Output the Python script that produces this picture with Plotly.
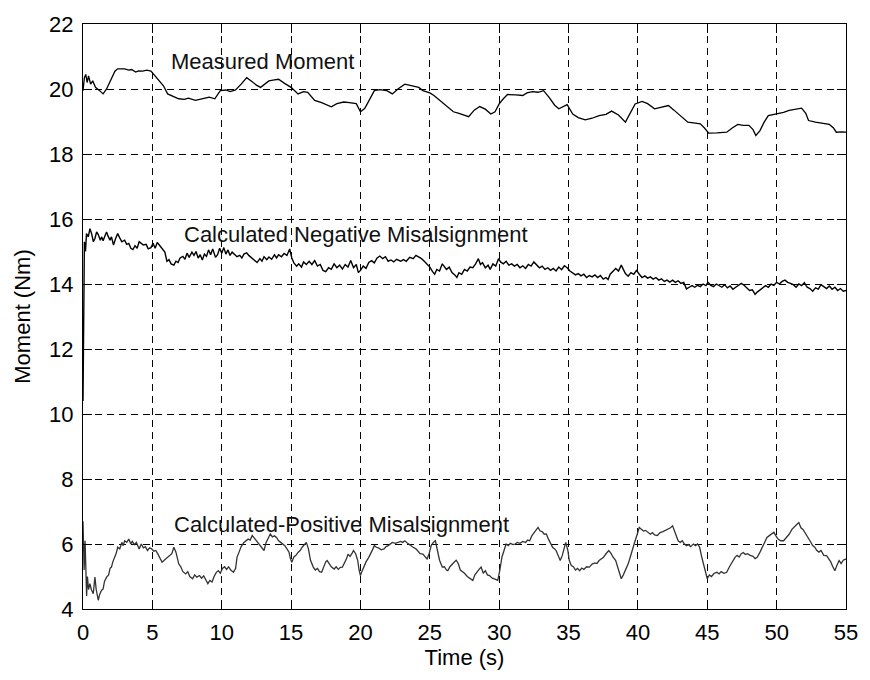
import plotly.graph_objects as go

# ---------------- data ----------------
t_meas = [0.0,0.1,0.2,0.3,0.4,0.55,0.7,0.9,1.2,1.45,1.7,2.0,2.3,2.5,3.0,3.3,3.5,3.8,4.0,4.3,4.6,4.9,
          5.2,5.5,5.8,6.1,6.4,6.9,7.3,7.6,8.1,8.5,8.8,9.1,9.5,9.9,10.3,10.6,11.0,11.4,11.8,12.2,12.5,
          12.8,13.1,13.4,13.8,14.1,14.5,15.0,15.5,15.9,16.2,16.7,17.2,17.9,18.3,18.8,19.2,19.7,20.0,
          20.3,20.5,21.0,21.4,21.9,22.3,22.7,23.2,23.5,23.8,24.2,24.5,25.0,25.3,25.7,26.0,26.4,26.7,
          27.1,27.5,27.8,28.2,28.6,29.0,29.4,29.7,30.0,30.3,30.6,31.2,31.7,32.0,32.4,32.8,33.2,33.6,
          34.0,34.3,34.6,34.9,35.3,35.7,36.2,36.7,37.2,37.7,38.1,38.6,39.1,39.5,39.8,40.3,40.7,41.2,
          41.7,42.2,42.6,43.1,43.6,44.0,44.5,44.8,45.1,45.7,46.4,46.8,47.2,47.6,48.0,48.3,48.5,48.8,
          49.1,49.4,49.8,50.1,50.5,50.9,51.3,51.8,52.1,52.3,52.8,53.3,53.8,54.1,54.3,54.7,55.0]
measured = [19.95,20.35,20.45,20.2,20.4,20.15,20.25,20.05,19.95,19.85,20.0,20.3,20.55,20.62,20.62,20.58,
            20.6,20.52,20.56,20.55,20.58,20.55,20.4,20.25,20.1,19.85,19.8,19.7,19.68,19.72,19.65,19.68,
            19.72,19.75,19.7,19.95,19.97,19.92,19.97,20.15,20.35,20.22,20.12,20.05,20.15,20.25,20.28,
            20.3,20.18,20.05,19.85,19.92,19.9,19.65,19.58,19.45,19.55,19.6,19.58,19.55,19.3,19.4,19.55,
            19.95,19.98,19.95,19.85,20.0,20.15,20.12,20.1,20.05,19.95,19.88,19.8,19.65,19.55,19.4,19.3,
            19.25,19.2,19.15,19.35,19.46,19.38,19.23,19.3,19.54,19.7,19.83,19.82,19.8,19.88,19.92,19.9,
            19.95,19.74,19.5,19.39,19.45,19.52,19.23,19.12,19.05,19.1,19.18,19.22,19.32,19.2,18.98,19.3,
            19.54,19.62,19.55,19.39,19.45,19.49,19.35,19.15,18.98,18.96,18.93,18.8,18.64,18.65,18.67,
            18.8,18.91,18.88,18.88,18.75,18.57,18.72,18.98,19.18,19.22,19.23,19.28,19.34,19.38,19.41,
            19.25,19.03,18.98,18.95,18.91,18.8,18.67,18.68,18.67]

t_neg = [0.00,0.05,0.10,0.18,0.25,0.38,0.50,0.62,0.75,0.86,0.98,1.10,1.25,1.35,1.45,1.60,1.70,1.80,1.95,
         2.05,2.20,2.35,2.50,2.65,2.80,3.00,3.15,3.30,3.45,3.60,3.75,3.90,4.05,4.20,4.35,4.55,4.70,4.90,
         5.05,5.20,5.35,5.50,5.70,5.90,6.05,6.20,6.35,6.55,6.70,6.85,7.00,7.20,7.35,7.50,7.65,7.85,8.00,
         8.15,8.30,8.45,8.60,8.75,8.90,9.05,9.20,9.35,9.55,9.70,9.85,10.00,10.15,10.30,10.45,10.60,10.75,
         10.95,11.10,11.30,11.45,11.60,11.80,11.95,12.15,12.35,12.55,12.75,12.90,13.05,13.25,13.40,13.60,
         13.80,13.95,14.10,14.30,14.50,14.70,14.90,15.05,15.20,15.40,15.55,15.75,15.90,16.10,16.30,16.50,
         16.70,16.90,17.10,17.30,17.50,17.70,17.90,18.10,18.30,18.50,18.70,18.90,19.10,19.30,19.50,19.70,
         19.85,20.00,20.20,20.40,20.60,20.80,21.00,21.20,21.40,21.60,21.80,22.00,22.20,22.40,22.60,22.90,
         23.10,23.30,23.55,23.80,24.00,24.20,24.40,24.60,24.80,25.00,25.20,25.35,25.50,25.70,25.90,26.05,
         26.20,26.40,26.60,26.80,26.95,27.10,27.30,27.50,27.70,27.90,28.10,28.30,28.50,28.65,28.80,29.00,
         29.20,29.35,29.55,29.75,29.95,30.10,30.30,30.50,30.70,30.90,31.10,31.30,31.50,31.70,31.90,32.10,
         32.30,32.50,32.70,32.90,33.10,33.30,33.50,33.70,33.90,34.10,34.30,34.50,34.70,34.90,35.10,35.30,
         35.50,35.70,35.90,36.10,36.30,36.50,36.70,36.90,37.10,37.30,37.50,37.70,37.85,38.00,38.20,38.40,
         38.60,38.80,38.95,39.10,39.30,39.50,39.70,39.90,40.10,40.30,40.50,40.70,40.90,41.10,41.30,41.50,
         41.70,41.90,42.10,42.30,42.50,42.70,42.90,43.10,43.30,43.50,43.70,43.90,44.10,44.30,44.50,44.70,
         44.90,45.05,45.25,45.45,45.65,45.85,46.05,46.25,46.45,46.65,46.85,47.05,47.25,47.45,47.65,47.85,
         48.05,48.25,48.45,48.60,48.80,49.00,49.20,49.40,49.60,49.80,50.00,50.20,50.40,50.60,50.80,51.00,
         51.20,51.40,51.60,51.80,52.00,52.20,52.40,52.60,52.80,53.00,53.20,53.40,53.60,53.80,54.00,54.20,
         54.40,54.60,54.80,55.00]
negative = [10.4,13.5,15.3,15.0,15.55,15.45,15.7,15.55,15.3,15.4,15.6,15.52,15.35,15.45,15.33,15.5,15.6,
            15.48,15.35,15.45,15.2,15.4,15.55,15.42,15.3,15.35,15.22,15.25,15.1,15.06,15.18,15.1,15.3,
            15.25,15.2,15.22,15.08,15.12,15.25,15.1,15.28,15.2,15.1,14.98,14.7,14.75,14.62,14.58,14.7,
            14.66,14.8,14.85,14.76,14.95,14.82,14.98,14.88,15.0,14.8,14.9,14.74,14.92,14.85,15.05,14.9,
            15.08,14.82,14.9,15.1,14.95,15.12,14.92,15.05,14.88,14.98,14.9,14.84,14.88,14.8,14.92,14.96,
            14.88,14.8,14.72,14.66,14.78,14.7,14.84,14.75,14.83,14.76,14.9,14.8,14.9,14.84,14.94,14.88,
            15.08,14.8,14.65,14.55,14.62,14.52,14.68,14.6,14.7,14.6,14.72,14.55,14.6,14.42,14.38,14.5,
            14.45,14.62,14.5,14.58,14.46,14.6,14.52,14.72,14.5,14.6,14.35,14.42,14.55,14.48,14.66,14.72,
            14.65,14.8,14.86,14.78,14.84,14.7,14.74,14.68,14.76,14.7,14.75,14.7,14.82,14.78,14.88,14.84,
            14.78,14.7,14.6,14.52,14.38,14.3,14.45,14.4,14.62,14.55,14.45,14.52,14.35,14.28,14.2,14.35,
            14.3,14.45,14.4,14.52,14.5,14.62,14.78,14.6,14.66,14.5,14.58,14.45,14.62,14.55,14.78,14.68,
            14.62,14.7,14.58,14.62,14.55,14.6,14.5,14.56,14.48,14.6,14.55,14.68,14.58,14.5,14.55,14.45,
            14.5,14.42,14.48,14.4,14.52,14.44,14.56,14.5,14.4,14.35,14.28,14.32,14.25,14.3,14.2,14.26,
            14.22,14.28,14.2,14.26,14.15,14.2,14.14,14.3,14.4,14.48,14.4,14.58,14.45,14.32,14.24,14.35,
            14.3,14.42,14.3,14.2,14.25,14.18,14.22,14.15,14.2,14.12,14.16,14.08,14.12,14.06,14.12,14.05,
            14.1,14.02,14.05,13.85,13.9,13.95,13.9,13.96,13.92,14.0,13.95,14.05,13.96,13.92,14.0,13.95,
            13.9,13.98,13.88,13.94,13.84,13.9,13.95,14.02,13.96,13.88,13.8,13.82,13.68,13.75,13.82,13.9,
            13.95,13.9,14.0,13.96,14.05,14.0,14.08,14.12,14.05,14.02,13.98,13.9,14.0,13.95,14.04,13.9,
            13.86,13.78,13.88,13.84,13.98,13.92,13.86,13.94,13.84,13.9,13.8,13.86,13.78,13.8]

t_pos = [0.00,0.08,0.15,0.22,0.26,0.32,0.40,0.50,0.60,0.74,0.80,0.86,0.95,1.05,1.10,1.20,1.33,1.45,1.55,
         1.70,1.85,1.95,2.05,2.15,2.30,2.40,2.50,2.65,2.80,2.90,3.00,3.15,3.30,3.45,3.55,3.70,3.85,3.95,
         4.05,4.20,4.35,4.50,4.65,4.80,4.95,5.10,5.25,5.40,5.55,5.70,5.85,6.00,6.20,6.40,6.55,6.70,6.90,
         7.05,7.20,7.40,7.55,7.70,7.90,8.05,8.20,8.40,8.55,8.70,8.85,9.00,9.15,9.30,9.45,9.60,9.75,9.90,
         10.05,10.20,10.35,10.50,10.65,10.85,11.00,11.10,11.25,11.40,11.60,11.75,11.90,12.05,12.20,12.35,
         12.50,12.60,12.75,12.90,13.05,13.20,13.35,13.50,13.65,13.80,13.95,14.10,14.25,14.40,14.55,14.70,
         14.85,14.95,15.05,15.20,15.35,15.50,15.65,15.80,15.95,16.10,16.25,16.40,16.60,16.75,16.90,17.05,
         17.20,17.35,17.50,17.60,17.75,17.90,18.10,18.25,18.40,18.55,18.70,18.85,19.00,19.10,19.25,19.40,
         19.50,19.65,19.80,19.90,20.00,20.10,20.25,20.40,20.60,20.75,20.90,21.00,21.15,21.30,21.50,21.70,
         21.85,22.00,22.15,22.30,22.50,22.70,22.90,23.05,23.20,23.40,23.60,23.80,24.00,24.15,24.30,24.50,
         24.65,24.80,24.95,25.10,25.25,25.40,25.55,25.70,25.90,26.05,26.20,26.30,26.45,26.60,26.75,26.90,
         27.05,27.20,27.35,27.50,27.70,27.90,28.10,28.25,28.40,28.55,28.70,28.85,29.00,29.15,29.30,29.50,
         29.70,29.90,30.05,30.20,30.35,30.50,30.65,30.80,31.00,31.15,31.30,31.50,31.70,31.90,32.05,32.20,
         32.35,32.50,32.65,32.80,32.95,33.10,33.25,33.40,33.55,33.70,33.85,34.00,34.10,34.25,34.40,34.55,
         34.70,34.80,34.95,35.05,35.20,35.35,35.50,35.65,35.80,35.95,36.10,36.30,36.50,36.70,36.90,37.05,
         37.20,37.35,37.50,37.70,37.90,38.05,38.20,38.40,38.55,38.70,38.80,38.95,39.10,39.30,39.45,39.60,
         39.80,39.95,40.10,40.25,40.40,40.55,40.70,40.90,41.05,41.20,41.40,41.60,41.80,42.00,42.20,42.35,
         42.50,42.65,42.80,42.90,43.05,43.20,43.35,43.50,43.65,43.80,44.00,44.15,44.30,44.45,44.60,44.75,
         44.85,45.00,45.15,45.30,45.50,45.70,45.85,46.00,46.20,46.40,46.60,46.80,47.00,47.15,47.30,47.45,
         47.60,47.75,47.90,48.10,48.30,48.45,48.60,48.80,48.95,49.10,49.30,49.45,49.60,49.80,49.95,50.10,
         50.30,50.50,50.70,50.90,51.10,51.30,51.45,51.60,51.75,51.90,52.05,52.20,52.40,52.60,52.75,52.90,
         53.05,53.20,53.40,53.60,53.75,53.90,54.05,54.20,54.35,54.50,54.65,54.80,55.00]
positive = [6.7,5.2,6.1,4.8,4.4,5.0,4.6,4.78,4.6,4.47,4.7,4.98,4.6,4.4,4.27,4.45,4.57,4.62,4.85,4.98,5.05,
            5.25,5.29,5.45,5.59,5.72,5.9,5.85,6.05,5.95,6.1,6.05,6.15,6.0,6.08,5.98,6.05,5.95,5.85,6.0,
            5.88,5.92,5.8,5.88,5.85,5.78,5.8,5.69,5.55,5.44,5.5,5.55,5.64,5.7,5.9,5.75,5.39,5.3,5.15,5.08,
            5.15,5.0,4.93,5.05,4.98,5.03,4.95,5.02,4.9,4.78,4.88,4.83,5.0,5.12,5.18,5.1,5.25,5.3,5.22,5.3,
            5.2,5.13,5.25,5.59,5.75,5.92,6.05,6.1,6.15,6.12,6.26,6.18,6.1,6.05,5.95,5.88,5.8,6.05,6.2,6.31,
            6.22,6.25,6.2,6.1,6.05,6.0,5.95,5.85,5.75,5.55,5.44,5.6,5.65,5.74,5.8,5.9,5.98,6.05,5.85,5.5,
            5.29,5.2,5.25,5.15,5.13,5.3,5.45,5.49,5.38,5.3,5.23,5.3,5.22,5.28,5.29,5.4,5.55,5.69,5.62,5.72,
            5.8,5.7,5.5,5.2,5.03,5.15,5.3,5.45,5.59,5.7,5.85,5.95,5.9,5.88,5.82,5.85,5.92,5.95,6.0,6.05,
            6.02,6.06,6.08,6.05,6.1,6.02,5.95,5.9,5.85,5.78,5.7,5.69,5.62,5.54,5.7,5.95,6.05,6.1,5.8,5.5,
            5.29,5.3,5.2,5.18,5.3,5.38,5.44,5.5,5.4,5.2,5.15,5.1,5.0,4.95,4.88,5.05,5.15,5.22,5.29,5.1,
            5.18,5.05,5.03,4.95,4.92,4.88,5.2,5.6,5.8,6.0,5.95,6.02,5.98,6.0,6.05,6.02,6.08,6.05,6.12,6.1,
            6.25,6.35,6.45,6.51,6.4,6.38,6.3,6.31,6.15,6.0,5.9,5.85,5.8,5.65,5.49,5.65,5.9,6.05,5.8,5.5,
            5.34,5.3,5.2,5.25,5.18,5.26,5.22,5.3,5.29,5.38,5.42,5.4,5.49,5.55,5.58,5.7,5.8,5.72,5.6,5.49,
            5.3,5.05,4.93,5.05,5.2,5.39,5.6,5.85,6.1,6.3,6.51,6.45,6.4,6.42,6.36,6.3,6.35,6.28,6.26,6.35,
            6.38,6.42,6.45,6.5,6.56,6.4,6.2,6.1,6.05,6.1,6.0,5.95,5.98,5.92,6.0,5.95,6.0,5.9,5.6,5.35,5.1,
            4.93,5.05,5.0,5.1,5.13,5.08,5.15,5.1,5.13,5.3,5.45,5.59,5.65,5.6,5.7,5.74,5.68,5.7,5.65,5.62,
            5.55,5.59,5.75,5.9,6.05,6.2,6.25,6.3,6.36,6.25,6.15,6.1,6.1,6.2,6.3,6.45,6.55,6.6,6.66,6.5,
            6.45,6.35,6.26,6.1,5.95,5.9,5.8,5.75,5.8,5.65,5.64,5.55,5.45,5.3,5.18,5.35,5.49,5.4,5.5,5.54]

x_ticks = [0, 5, 10, 15, 20, 25, 30, 35, 40, 45, 50, 55]
y_ticks = [4, 6, 8, 10, 12, 14, 16, 18, 20, 22]

labels = ["Measured Moment", "Calculated Negative Misalsignment", "Calculated-Positive Misalsignment"]
label_x = [6.2, 7.16, 6.41]
label_y = [20.84, 15.52, 6.59]

# ---------------- figure ----------------
FONT = "Liberation Sans, Arial, sans-serif"
fig = go.Figure()
fig.add_trace(go.Scatter(x=t_meas, y=measured, mode="lines",
                         line=dict(color="#000000", width=1.3), showlegend=False))
fig.add_trace(go.Scatter(x=t_neg, y=negative, mode="lines",
                         line=dict(color="#000000", width=1.4), showlegend=False))
fig.add_trace(go.Scatter(x=t_pos, y=positive, mode="lines",
                         line=dict(color="#333333", width=1.3), showlegend=False))

for txt, lx, ly in zip(labels, label_x, label_y):
    fig.add_annotation(x=lx, y=ly, text=txt, showarrow=False, xanchor="left", yanchor="middle",
                       font=dict(family=FONT, size=22, color="#111111"))

axis_common = dict(showline=True, linecolor="#000000", linewidth=1, mirror="all",
                   ticks="inside", ticklen=9, tickcolor="#000000", tickwidth=1,
                   showgrid=True, gridcolor="#000000", gridwidth=1, griddash="7px,5px",
                   zeroline=False, tickfont=dict(family=FONT, size=22, color="#000000"))

fig.update_xaxes(range=[0, 55], tickvals=x_ticks, ticktext=[str(v) for v in x_ticks],
                 title=dict(text="Time (s)", font=dict(family=FONT, size=22, color="#000000"), standoff=4),
                 ticklabelstandoff=4, **axis_common)
fig.update_yaxes(range=[4, 22], tickvals=y_ticks, ticktext=[str(v) for v in y_ticks],
                 title=dict(text="Moment (Nm)", font=dict(family=FONT, size=22, color="#000000"), standoff=12),
                 ticklabelstandoff=4, **axis_common)

fig.update_layout(width=870, height=680, margin=dict(l=83, r=17, t=20, b=71),
                  paper_bgcolor="#ffffff", plot_bgcolor="#ffffff")

fig.write_html("out.html")
